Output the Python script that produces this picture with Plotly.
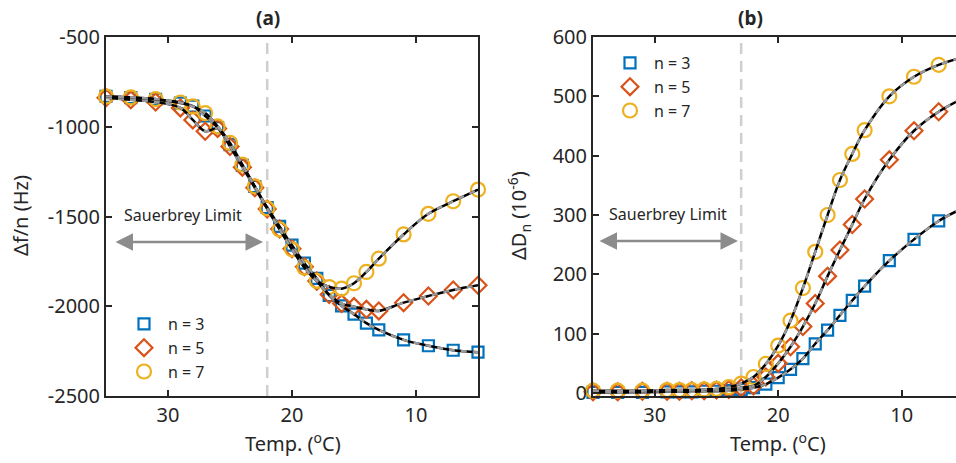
import plotly.graph_objects as go

# Temperature sweep (deg C) shared by every overtone
temps = [35, 33, 31, 29, 28, 27, 26, 25, 24, 23, 22, 21, 20, 19, 18, 17, 16, 15, 14, 13, 11, 9, 7, 5]

# Normalised frequency shift, delta f / n (Hz)
df_n3 = [-830, -838, -848, -868, -885, -940, -1005, -1100, -1215, -1333, -1450, -1555, -1660,
         -1760, -1845, -1940, -1998, -2044, -2094, -2132, -2187, -2220, -2245, -2256]
df_n5 = [-838, -850, -862, -895, -962, -1025, -1010, -1110, -1225, -1340, -1458, -1570, -1680,
         -1780, -1860, -1935, -1985, -2002, -2017, -2026, -1980, -1943, -1909, -1883]
df_n7 = [-831, -836, -846, -865, -887, -924, -998, -1090, -1211, -1332, -1455, -1572, -1683,
         -1785, -1859, -1893, -1902, -1872, -1809, -1735, -1600, -1485, -1415, -1350]

# Dissipation shift, delta D_n (1e-6)
dD_n3 = [1, 1, 1, 2, 2, 2, 3, 3, 4, 6, 9, 15, 26, 40, 58, 83, 106, 131, 156, 180, 223, 259, 290, 312]
dD_n5 = [2, 2, 3, 3, 3, 4, 4, 5, 6, 9, 12, 27, 50, 78, 112, 151, 197, 241, 284, 327, 393, 442, 474, 497]
dD_n7 = [4, 4, 4, 5, 5, 5, 6, 7, 10, 16, 27, 49, 80, 122, 177, 238, 300, 359, 403, 443, 500, 533, 553, 566]

series_names = ["n = 3", "n = 5", "n = 7"]
colors = ["#0072BD", "#D95319", "#EDB120"]
symbols = ["square-open", "diamond-open", "circle-open"]
sizes = [11, 13, 14]

sauerbrey_limit = [22, 23]  # deg C, left / right panel

left_yticks = [-500, -1000, -1500, -2000, -2500]
left_yticklabels = ["-500", "-1000", "-1500", "-2000", "-2500"]
right_yticks = [0, 100, 200, 300, 400, 500, 600]
xticks = [30, 20, 10]

W, H = 956, 463
FONT = "Noto Sans"
TXT = "#262626"

fig = go.Figure()

panels = [
    ("x", "y", "legend", [df_n3, df_n5, df_n7]),
    ("x2", "y2", "legend2", [dD_n3, dD_n5, dD_n7]),
]

for xa, ya, leg, data in panels:
    # measured points
    for name, vals, c, s, sz in zip(series_names, data, colors, symbols, sizes):
        fig.add_trace(go.Scatter(
            x=temps, y=vals, mode="markers", name=name, legend=leg,
            xaxis=xa, yaxis=ya, cliponaxis=False,
            marker=dict(symbol=s, size=sz, color=c, line=dict(color=c, width=2.2)),
        ))
    # fitted curves: black line with grey dashes on top
    for vals in data:
        fig.add_trace(go.Scatter(
            x=temps, y=vals, mode="lines", showlegend=False, xaxis=xa, yaxis=ya,
            line=dict(color="black", width=2.5, shape="spline", smoothing=1.0),
            hoverinfo="skip",
        ))
        fig.add_trace(go.Scatter(
            x=temps, y=vals, mode="lines", showlegend=False, xaxis=xa, yaxis=ya,
            line=dict(color="#9a9a9a", width=2.5, shape="spline", smoothing=1.0, dash="6px,6px"),
            hoverinfo="skip",
        ))

# invisible trace so the top axis of panel (b) is drawn
fig.add_trace(go.Scatter(x=[20], y=[-100], mode="markers", showlegend=False,
                         xaxis="x3", yaxis="y2", marker=dict(opacity=0), hoverinfo="skip"))

ydom = [1 - 396 / H, 1 - 37 / H]
axis_common = dict(
    showgrid=False, zeroline=False, showline=True, linecolor=TXT, linewidth=2,
    ticks="inside", ticklen=6, tickwidth=1.5, tickcolor=TXT, automargin=False,
    tickfont=dict(family=FONT, size=20, color=TXT),
)

legend_common = dict(xanchor="left", yanchor="top", bgcolor="rgba(0,0,0,0)",
                     font=dict(family=FONT, size=16, color=TXT),
                     itemsizing="trace", itemwidth=38)

fig.update_layout(
    width=W, height=H, margin=dict(l=0, r=0, t=0, b=0, autoexpand=False),
    paper_bgcolor="white", plot_bgcolor="white",
    xaxis=dict(domain=[106 / W, 478 / W], range=[35, 5], tickvals=xticks,
               mirror="ticks", anchor="y", **axis_common),
    yaxis=dict(domain=ydom, range=[-2500, -500], tickvals=left_yticks,
               ticktext=left_yticklabels, mirror="ticks", anchor="x", **axis_common),
    xaxis2=dict(domain=[593 / W, 1.0], range=[35, 5.6], tickvals=xticks,
                anchor="y2", **axis_common),
    xaxis3=dict(domain=[593 / W, 1.0], range=[35, 5.6], tickvals=xticks,
                overlaying="x2", side="top", anchor="y2", showticklabels=False,
                **axis_common),
    yaxis2=dict(domain=ydom, range=[-5, 600], tickvals=right_yticks,
                anchor="x2", **axis_common),
    legend=dict(x=120 / W, y=1 - 307 / H, **legend_common),
    legend2=dict(x=606 / W, y=1 - 46 / H, **legend_common),
    showlegend=True,
)

# Sauerbrey limit markers
for xa, t in zip(["x", "x2"], sauerbrey_limit):
    fig.add_shape(type="line", xref=xa, yref=("y" if xa == "x" else "y2") + " domain",
                  x0=t, x1=t, y0=0, y1=1, layer="below",
                  line=dict(color="#cfcfcf", width=2.5, dash="11px,7px"))

annotations = [
    dict(text="<b>(a)</b>", x=268 / W, y=1 - 18 / H, size=19),
    dict(text="<b>(b)</b>", x=750 / W, y=1 - 18 / H, size=19),
    dict(text="Temp. (<sup>o</sup>C)", x=293 / W, y=1 - 442 / H, size=20),
    dict(text="Temp. (<sup>o</sup>C)", x=778 / W, y=1 - 442 / H, size=20),
    dict(text="Sauerbrey Limit", x=183 / W, y=1 - 215 / H, size=16),
    dict(text="Sauerbrey Limit", x=668 / W, y=1 - 214 / H, size=16),
]
for a in annotations:
    fig.add_annotation(text=a["text"], x=a["x"], y=a["y"], xref="paper", yref="paper",
                       showarrow=False, xanchor="center", yanchor="middle",
                       font=dict(family=FONT, size=a["size"], color=TXT))

fig.add_annotation(text="Δf/n (Hz)", x=20 / W, y=1 - 216 / H, xref="paper", yref="paper",
                   showarrow=False, textangle=-90, xanchor="center", yanchor="middle",
                   font=dict(family=FONT, size=20, color=TXT))
fig.add_annotation(text="ΔD<sub>n</sub> (10<sup>-6</sup>)", x=519 / W, y=1 - 216 / H,
                   xref="paper", yref="paper", showarrow=False, textangle=-90,
                   xanchor="center", yanchor="middle",
                   font=dict(family=FONT, size=20, color=TXT))

# double-headed arrows under the Sauerbrey labels
for x_head, x_tail, yp in [(263, 114, 242), (738, 598, 241)]:
    fig.add_annotation(x=x_head / W, y=1 - yp / H, xref="paper", yref="paper",
                       ax=x_tail - x_head, ay=0, axref="pixel", ayref="pixel",
                       showarrow=True, arrowhead=2, startarrowhead=2, arrowside="end+start",
                       arrowsize=1.4, startarrowsize=1.4, arrowwidth=2.5,
                       arrowcolor="#8c8c8c", text="")

fig.write_html("out.html")
